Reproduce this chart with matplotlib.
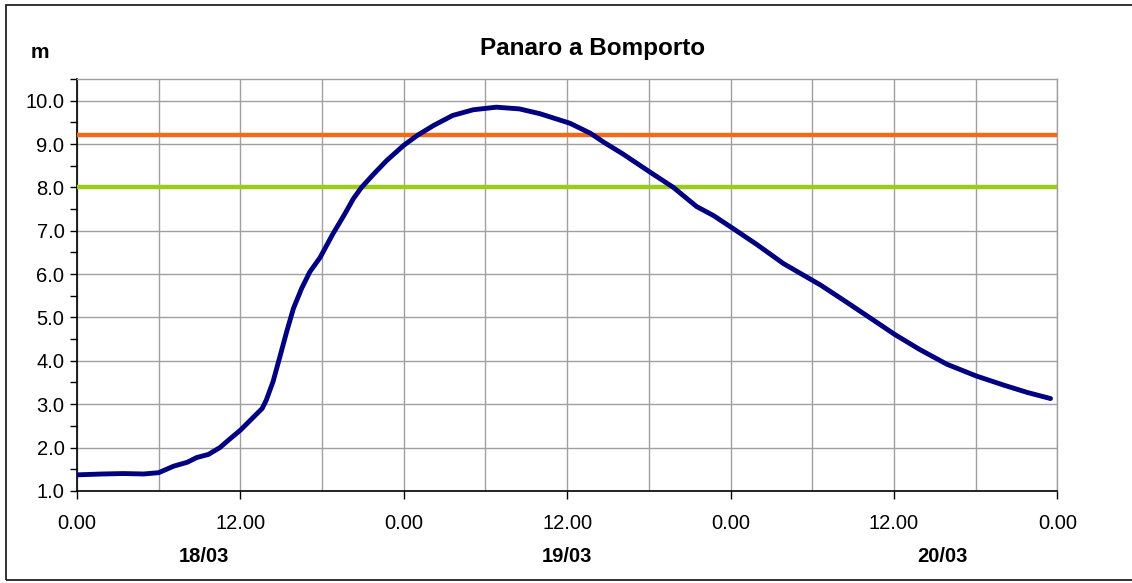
import matplotlib.pyplot as plt
from matplotlib.patches import Rectangle
from matplotlib.ticker import MultipleLocator, FixedLocator

plt.rcParams['font.family'] = ['Liberation Sans', 'DejaVu Sans']

# hours from 18/03 0.00, water level (m)
hours = [0, 1.9, 3.4, 4.9, 6.0, 7.1, 8.1, 8.8, 9.65, 10.5, 11.2, 12.0, 12.8, 13.6,
         13.9, 14.4, 14.9, 15.4, 15.9, 16.5, 17.1, 17.85, 18.8, 19.6, 20.3, 20.9,
         21.8, 22.75, 24.0, 25.0, 26.2, 27.6, 29.1, 30.8, 32.5, 34.0, 36.2, 37.7,
         38.7, 40.1, 42.1, 43.8, 45.5, 46.75, 48.05, 49.9, 51.9, 54.6, 56.3, 58.3,
         60.05, 61.9, 63.9, 66.05, 68.06, 69.8, 71.5]
level = [1.37, 1.39, 1.40, 1.39, 1.42, 1.57, 1.66, 1.77, 1.84, 2.0, 2.19, 2.40,
         2.65, 2.90, 3.09, 3.52, 4.09, 4.67, 5.21, 5.67, 6.05, 6.38, 6.93, 7.35,
         7.74, 8.0, 8.31, 8.62, 8.97, 9.20, 9.43, 9.66, 9.79, 9.85, 9.81, 9.70,
         9.48, 9.25, 9.04, 8.77, 8.35, 8.0, 7.56, 7.35, 7.08, 6.69, 6.24, 5.75,
         5.40, 4.98, 4.61, 4.26, 3.92, 3.65, 3.44, 3.27, 3.13]

threshold_orange = 9.2
threshold_green = 8.0

tick_hours = [0, 12, 24, 36, 48, 60, 72]
tick_labels = ['0.00', '12.00', '0.00', '12.00', '0.00', '12.00', '0.00']
day_labels = ['18/03', '19/03', '20/03']
day_pos = [9.33, 36.0, 63.6]

fig = plt.figure(figsize=(11.32, 5.83), dpi=100)
ax = fig.add_axes([0.068, 0.158, 0.866, 0.7065])

ax.axhline(threshold_orange, color='#f26a1b', lw=3.2, zorder=3)
ax.axhline(threshold_green, color='#9acd1a', lw=3.2, zorder=3)
ax.plot(hours, level, color='#000080', lw=3.5, zorder=4,
        solid_capstyle='round', solid_joinstyle='round')

ax.set_xlim(0, 72)
ax.set_ylim(1.0, 10.5)

ax.xaxis.set_major_locator(FixedLocator(tick_hours))
ax.set_xticklabels(tick_labels)
ax.xaxis.set_minor_locator(MultipleLocator(6))
ax.yaxis.set_major_locator(FixedLocator([1, 2, 3, 4, 5, 6, 7, 8, 9, 10]))
ax.yaxis.set_major_formatter(lambda v, p: f'{v:.1f}')
ax.yaxis.set_minor_locator(MultipleLocator(0.5))

ax.grid(which='major', axis='y', color='#a0a0a0', lw=1.0)
ax.grid(which='both', axis='x', color='#a0a0a0', lw=1.0)

ax.tick_params(axis='y', which='both', direction='out', length=5, width=1, labelsize=14.5, pad=4)
ax.tick_params(axis='x', which='major', direction='out', length=6, width=1, labelsize=14.5, pad=11)
ax.tick_params(axis='x', which='minor', length=0)

for s in ['left', 'bottom']:
    ax.spines[s].set_color('black')
    ax.spines[s].set_linewidth(1.2)
for s in ['top', 'right']:
    ax.spines[s].set_color('#a0a0a0')
    ax.spines[s].set_linewidth(1.0)

fig.text(593 / 1132, 1 - 48 / 583, 'Panaro a Bomporto', ha='center', va='center',
         fontsize=17.5, fontweight='bold')
fig.text(40 / 1132, 1 - 52 / 583, 'm', ha='center', va='center', fontsize=15, fontweight='bold')

for lab, pos in zip(day_labels, day_pos):
    ax.annotate(lab, xy=(pos, 0), xycoords=('data', 'figure fraction'),
                xytext=(0, 27), textcoords='offset pixels',
                ha='center', va='center', fontsize=14.5, fontweight='bold')

fig.patches.append(Rectangle((6 / 1132, 3 / 583), 1.1, 1 - 8 / 583, transform=fig.transFigure,
                             fill=False, edgecolor='#222222', lw=1.3))

fig.savefig('out.png', dpi=100)
